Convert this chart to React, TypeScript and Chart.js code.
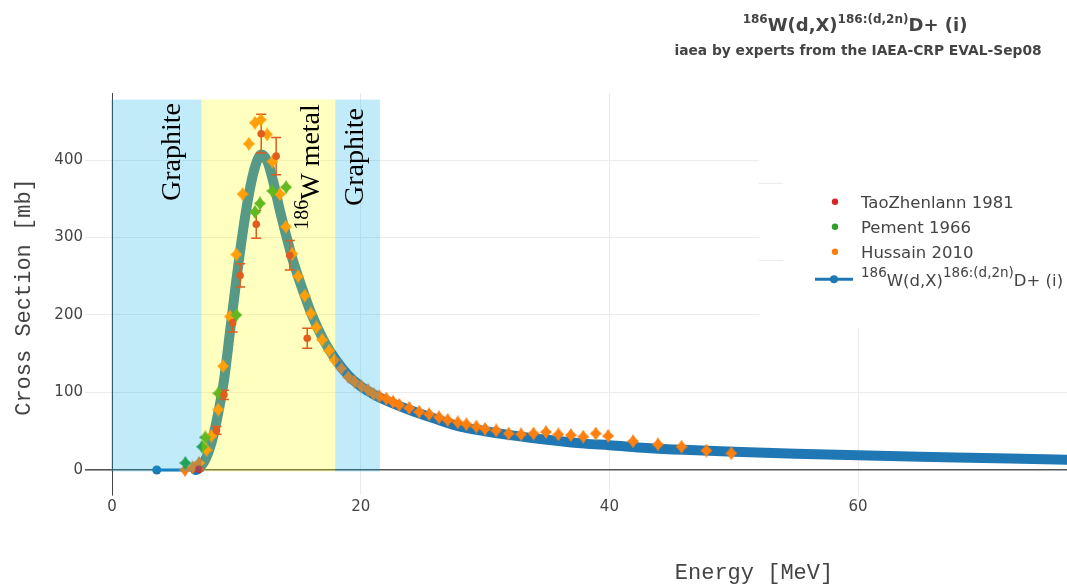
import React, { useEffect, useRef } from 'react';
import { Chart, registerables } from 'chart.js';

Chart.register(...registerables);

// ---------- data ----------
const evalEnergy = [3.6, 6.7, 7.1, 7.5, 8.0, 8.5, 9.0, 9.5, 10.0, 10.5, 11.0, 11.5, 12.0, 12.5, 13.0, 13.5, 14.0, 14.5, 15.0, 15.5, 16.0, 17.0, 18.0, 19.0, 20.0, 21.0, 22.0, 24.0, 26.0, 28.0, 30.0, 32.0, 35.0, 38.0, 40.0, 43.0, 46.0, 50.0, 55.0, 60.0, 65.0, 70.0, 75.0, 80.0];
const evalCrossSection = [0, 0, 4, 13, 35, 70, 115, 180, 245, 305, 355, 391, 407, 398, 370, 335, 303, 273, 248, 225, 203, 168, 142, 122, 108, 98, 90, 77, 66, 56, 50, 45, 39, 34, 32, 28.5, 26, 23.5, 21, 19, 17, 15.5, 13.8, 12.5];

const taoEnergy = [7.0, 8.4, 9.0, 9.7, 10.3, 11.6, 12.0, 13.2, 14.3, 15.7];
const taoCrossSection = [1, 51, 97, 190, 251, 317, 434, 405, 277, 170];
const taoError = [2, 5, 6, 12, 15, 18, 25, 24, 19, 13];

const pementEnergy = [5.9, 7.25, 7.5, 8.55, 10.0, 11.5, 11.9, 12.9, 14.0];
const pementCrossSection = [9, 30, 42, 99, 200, 333, 344, 360, 365];

const hussainEnergy = [5.87, 6.48, 7.0, 7.6, 8.0, 8.54, 8.94, 9.48, 10.0, 10.5, 11.0, 11.49, 11.97, 12.48, 12.9, 13.5, 13.98, 14.5, 14.97, 15.5, 15.98, 16.44, 16.9, 17.46, 17.9, 18.45, 19.0, 19.5, 20.06, 20.6, 21.04, 21.5, 22.06, 22.6, 23.1, 23.9, 24.7, 25.5, 26.3, 27.0, 27.8, 28.5, 29.3, 30.0, 30.9, 31.9, 32.9, 33.9, 34.9, 35.9, 36.9, 37.9, 38.9, 39.9, 41.9, 43.9, 45.8, 47.8, 49.8];
const hussainCrossSection = [0, 3.5, 9, 26, 44, 78, 134, 198, 278, 356, 421, 448, 452, 433, 398, 356, 314, 279, 250, 225, 202, 184, 168, 154, 142, 131, 120, 114, 108, 103, 98, 95, 92, 88, 84, 80, 75, 72, 68, 64.5, 61.5, 59, 56, 53, 51, 47, 46, 47, 49, 46, 45, 43, 47, 44, 37, 33, 30, 25, 21.5];

const xTicks = [0, 20, 40, 60];
const yTicks = [0, 100, 200, 300, 400];

// target regions (energy ranges, MeV)
const bandStart = [0, 7.2, 17.95];
const bandEnd = [7.2, 17.95, 21.55];
const bandLabels = ['Graphite', '186W metal', 'Graphite'];

const seriesLabels = ['TaoZhenlann 1981', 'Pement 1966', 'Hussain 2010'];

// ---------- styles ----------
const X_MIN = 0;
const X_MAX = 76.8;
const Y_MIN = -32.3;
const Y_MAX = 486.5;
const BAND_Y0 = -2;
const BAND_Y1 = 478;
const BAND_COLORS = ['rgba(0,170,230,0.24)', 'rgba(255,255,0,0.25)', 'rgba(0,170,230,0.24)'];
const C_RED = '#d62728';
const C_GREEN = '#2ca02c';
const C_ORANGE = '#ff7f0e';
const C_BLUE = '#1f77b4';
const TEXT = '#444';
const GRID = '#ebebeb';

type Part = { text: string; sup?: boolean };

const titleParts: Part[] = [
  { text: '186', sup: true },
  { text: 'W(d,X)' },
  { text: '186:(d,2n)', sup: true },
  { text: 'D+ (i)' },
];
const subtitle = 'iaea by experts from the IAEA-CRP EVAL-Sep08';

function drawRich(
  ctx: CanvasRenderingContext2D,
  parts: Part[],
  x: number,
  y: number,
  mainFont: string,
  supFont: string,
  rise: number,
  align: 'left' | 'center' | 'right'
) {
  let total = 0;
  const widths = parts.map((p) => {
    ctx.font = p.sup ? supFont : mainFont;
    const w = ctx.measureText(p.text).width;
    total += w;
    return w;
  });
  let cx = align === 'left' ? x : align === 'center' ? x - total / 2 : x - total;
  ctx.textAlign = 'left';
  parts.forEach((p, i) => {
    ctx.font = p.sup ? supFont : mainFont;
    ctx.fillText(p.text, cx, p.sup ? y - rise : y);
    cx += widths[i];
  });
}

function makeStar(color: string): HTMLCanvasElement {
  const w = 12;
  const h = 14;
  const c = document.createElement('canvas');
  c.width = w;
  c.height = h;
  const g = c.getContext('2d')!;
  const cx = w / 2;
  const cy = h / 2;
  const ix = 2.6;
  const iy = 2.9;
  g.fillStyle = color;
  g.beginPath();
  g.moveTo(cx, 0);
  g.lineTo(cx + ix, cy - iy);
  g.lineTo(w, cy);
  g.lineTo(cx + ix, cy + iy);
  g.lineTo(cx, h);
  g.lineTo(cx - ix, cy + iy);
  g.lineTo(0, cy);
  g.lineTo(cx - ix, cy - iy);
  g.closePath();
  g.fill();
  return c;
}

function splitLabel(label: string): Part[] {
  const m = label.match(/^(\d+)(.*)$/);
  if (m) return [{ text: m[1], sup: true }, { text: m[2] }];
  return [{ text: label }];
}

const decorPlugin = {
  id: 'decor',
  beforeDatasetsDraw(chart: any) {
    const { ctx, chartArea } = chart;
    ctx.save();
    // legend background box
    ctx.fillStyle = '#ffffff';
    ctx.fillRect(759, chartArea.top, chart.width - 759, 328 - chartArea.top);
    ctx.strokeStyle = GRID;
    ctx.lineWidth = 1;
    [183.5, 260.5].forEach((py) => {
      ctx.beginPath();
      ctx.moveTo(759, py);
      ctx.lineTo(783, py);
      ctx.stroke();
    });
    ctx.restore();
  },
  afterDatasetDraw(chart: any, args: any) {
    if (args.index !== 3) return;
    const { ctx, chartArea, scales } = chart;
    const xs = scales.x;
    const ys = scales.y;
    ctx.save();
    ctx.beginPath();
    ctx.rect(chartArea.left, chartArea.top, chartArea.right - chartArea.left, chartArea.bottom - chartArea.top);
    ctx.clip();
    ctx.strokeStyle = C_RED;
    ctx.lineWidth = 1.5;
    taoEnergy.forEach((e, i) => {
      const px = xs.getPixelForValue(e);
      const top = ys.getPixelForValue(taoCrossSection[i] + taoError[i]);
      const bot = ys.getPixelForValue(taoCrossSection[i] - taoError[i]);
      ctx.beginPath();
      ctx.moveTo(px, top);
      ctx.lineTo(px, bot);
      ctx.moveTo(px - 5, top);
      ctx.lineTo(px + 5, top);
      ctx.moveTo(px - 5, bot);
      ctx.lineTo(px + 5, bot);
      ctx.stroke();
    });
    ctx.restore();
  },
  afterDatasetsDraw(chart: any) {
    const { ctx, chartArea, scales } = chart;
    const xs = scales.x;
    const ys = scales.y;
    ctx.save();
    ctx.beginPath();
    ctx.rect(chartArea.left - 1, chartArea.top, chartArea.right - chartArea.left + 1, chartArea.bottom - chartArea.top);
    ctx.clip();
    bandStart.forEach((s, i) => {
      const x0 = xs.getPixelForValue(s) - (i === 0 ? 1 : 0);
      const x1 = xs.getPixelForValue(bandEnd[i]);
      const y0 = ys.getPixelForValue(BAND_Y1);
      const y1 = ys.getPixelForValue(BAND_Y0);
      ctx.fillStyle = BAND_COLORS[i];
      ctx.fillRect(x0, y0, x1 - x0, y1 - y0);
    });
    ctx.restore();

    // band labels (rotated)
    const labelPos = [
      [173, 152],
      [312, 167],
      [356, 157],
    ];
    ctx.save();
    ctx.fillStyle = '#000';
    ctx.textBaseline = 'middle';
    bandLabels.forEach((lab, i) => {
      ctx.save();
      ctx.translate(labelPos[i][0], labelPos[i][1]);
      ctx.rotate(-Math.PI / 2);
      drawRich(ctx, splitLabel(lab), 0, 0, '28px "Liberation Serif"', '20px "Liberation Serif"', 9, 'center');
      ctx.restore();
    });
    ctx.restore();
  },
  afterDraw(chart: any) {
    const { ctx } = chart;
    ctx.save();
    ctx.fillStyle = TEXT;
    ctx.textBaseline = 'alphabetic';
    // title
    drawRich(ctx, titleParts, 855, 31, 'bold 18px "DejaVu Sans"', 'bold 12px "DejaVu Sans"', 8, 'center');
    ctx.font = 'bold 13.8px "DejaVu Sans"';
    ctx.textAlign = 'center';
    ctx.fillText(subtitle, 858, 55);

    // legend
    const rowsY = [201.7, 226.7, 251.7];
    const colors = [C_RED, C_GREEN, C_ORANGE];
    seriesLabels.forEach((lab, i) => {
      ctx.fillStyle = colors[i];
      ctx.beginPath();
      ctx.arc(835, rowsY[i], 3.2, 0, Math.PI * 2);
      ctx.fill();
      ctx.fillStyle = TEXT;
      ctx.font = '16.5px "DejaVu Sans"';
      ctx.textAlign = 'left';
      ctx.fillText(lab, 861, rowsY[i] + 6);
    });
    const ly = 279.3;
    ctx.strokeStyle = C_BLUE;
    ctx.lineWidth = 3;
    ctx.beginPath();
    ctx.moveTo(815, ly);
    ctx.lineTo(853, ly);
    ctx.stroke();
    ctx.fillStyle = C_BLUE;
    ctx.beginPath();
    ctx.arc(834, ly, 4, 0, Math.PI * 2);
    ctx.fill();
    ctx.fillStyle = TEXT;
    drawRich(ctx, titleParts, 861, ly + 6.5, '16.5px "DejaVu Sans"', '13.5px "DejaVu Sans"', 9, 'left');

    // axis titles
    ctx.font = '22px "Liberation Mono"';
    ctx.textAlign = 'center';
    ctx.textBaseline = 'middle';
    ctx.fillText('Energy [MeV]', 754, 573);
    ctx.save();
    ctx.translate(24, 297);
    ctx.rotate(-Math.PI / 2);
    ctx.fillText('Cross Section [mb]', 0, 0);
    ctx.restore();
    ctx.restore();
  },
};

export default function App() {
  const ref = useRef<HTMLCanvasElement>(null);

  useEffect(() => {
    const canvas = ref.current;
    if (!canvas) return;
    const orangeStar = makeStar(C_ORANGE);
    const greenStar = makeStar(C_GREEN);
    const isZero = (c: any) => c.tick && c.tick.value === 0;

    const chart = new Chart(canvas, {
      type: 'scatter',
      data: {
        datasets: [
          {
            label: seriesLabels[0],
            data: taoEnergy.map((x, i) => ({ x, y: taoCrossSection[i] })),
            pointStyle: 'circle',
            pointRadius: 3.8,
            backgroundColor: C_RED,
            borderColor: C_RED,
            pointBorderWidth: 0,
            showLine: false,
          },
          {
            label: seriesLabels[1],
            data: pementEnergy.map((x, i) => ({ x, y: pementCrossSection[i] })),
            pointStyle: greenStar,
            pointRadius: 6,
            backgroundColor: C_GREEN,
            borderColor: C_GREEN,
            showLine: false,
          },
          {
            label: seriesLabels[2],
            data: hussainEnergy.map((x, i) => ({ x, y: hussainCrossSection[i] })),
            pointStyle: orangeStar,
            pointRadius: 6,
            backgroundColor: C_ORANGE,
            borderColor: C_ORANGE,
            showLine: false,
          },
          {
            label: '186W(d,X)186:(d,2n)D+ (i)',
            data: evalEnergy.map((x, i) => ({ x, y: evalCrossSection[i] })),
            showLine: true,
            borderColor: C_BLUE,
            backgroundColor: C_BLUE,
            borderWidth: 10,
            borderCapStyle: 'round',
            borderJoinStyle: 'round',
            cubicInterpolationMode: 'monotone',
            pointRadius: (c: any) => (c.dataIndex < 2 ? 4.5 : 0),
            pointBorderWidth: 0,
            segment: {
              borderWidth: (c: any) => (c.p0DataIndex === 0 ? 3 : 10),
            },
          } as any,
        ],
      },
      options: {
        responsive: false,
        animation: false,
        devicePixelRatio: 1,
        events: [],
        layout: { autoPadding: false, padding: { top: 93, left: 0, right: 0, bottom: 0 } },
        plugins: {
          legend: { display: false },
          title: { display: false },
          tooltip: { enabled: false },
        },
        scales: {
          x: {
            type: 'linear',
            min: X_MIN,
            max: X_MAX,
            afterBuildTicks: (s: any) => {
              s.ticks = xTicks.map((v) => ({ value: v }));
            },
            afterFit: (s: any) => {
              s.height = 93;
              s.paddingLeft = 0;
              s.paddingRight = 0;
            },
            grid: { color: GRID, drawTicks: false, lineWidth: 1 },
            border: { display: false },
            ticks: {
              padding: 3,
              color: TEXT,
              font: { size: 15, family: 'DejaVu Sans' },
              maxRotation: 0,
              autoSkip: false,
            },
          },
          y: {
            type: 'linear',
            min: Y_MIN,
            max: Y_MAX,
            afterBuildTicks: (s: any) => {
              s.ticks = yTicks.map((v) => ({ value: v }));
            },
            afterFit: (s: any) => {
              s.width = 112;
              s.paddingTop = 0;
              s.paddingBottom = 0;
            },
            grid: {
              color: (c: any) => (isZero(c) ? '#555' : GRID),
              tickColor: (c: any) => (isZero(c) ? '#555' : GRID),
              lineWidth: (c: any) => (isZero(c) ? 1.6 : 1),
              drawTicks: true,
              tickLength: 27,
            },
            border: { display: true, color: TEXT, width: 1 },
            ticks: {
              padding: 2,
              color: TEXT,
              font: { size: 15, family: 'DejaVu Sans' },
            },
          },
        },
      } as any,
      plugins: [decorPlugin],
    });

    return () => chart.destroy();
  }, []);

  return (
    <div style={{ position: 'absolute', left: 0, top: 0, width: 1067, height: 588, background: '#fff' }}>
      <canvas ref={ref} width={1067} height={588} />
    </div>
  );
}
